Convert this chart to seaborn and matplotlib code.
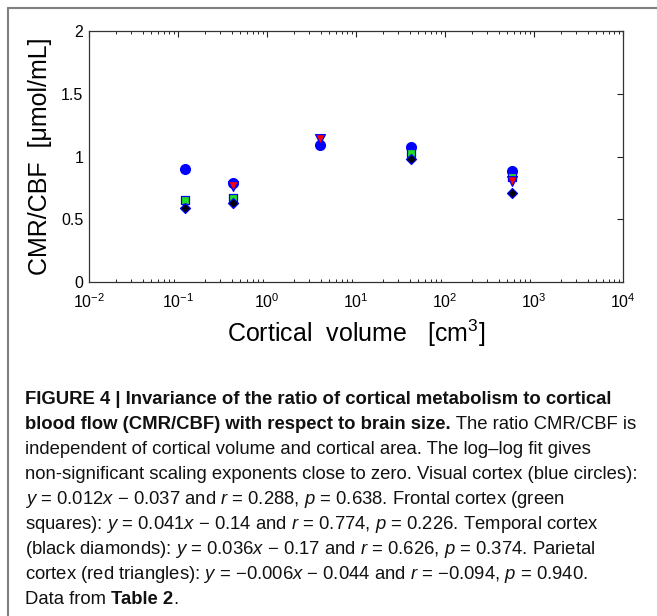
import matplotlib
matplotlib.use("Agg")
import matplotlib.pyplot as plt
import seaborn as sns
import pandas as pd
import numpy as np
from matplotlib.lines import Line2D
from matplotlib.text import Annotation
from matplotlib.ticker import FixedLocator, NullFormatter, LogFormatterSciNotation

sns.set_theme(style="white")
plt.rcParams['font.family'] = ['Liberation Sans', 'DejaVu Sans']
plt.rcParams['mathtext.fontset'] = 'custom'
plt.rcParams['mathtext.rm'] = 'Liberation Sans'
plt.rcParams['mathtext.it'] = 'Liberation Sans:italic'
plt.rcParams['mathtext.bf'] = 'Liberation Sans:bold'

# ---- data ----
visual_x = [0.12, 0.41, 3.9, 41.5, 560]
visual_y = [0.90, 0.79, 1.09, 1.075, 0.886]
frontal_x = [0.12, 0.41, 41.5, 560]
frontal_y = [0.655, 0.674, 1.027, 0.841]
parietal_x = [0.41, 3.9, 560]
parietal_y = [0.77, 1.14, 0.809]
temporal_x = [0.12, 0.41, 41.5, 560]
temporal_y = [0.589, 0.634, 0.979, 0.713]

x_decades = [1e-2, 1e-1, 1e0, 1e1, 1e2, 1e3, 1e4]
y_ticks = [0, 0.5, 1, 1.5, 2]
y_ticklabels = ["0", "0.5", "1", "1.5", "2"]

W, H = 657, 616
fig = plt.figure(figsize=(W / 100, H / 100), dpi=100)
fig.patch.set_facecolor("white")

ax = fig.add_axes([89 / W, 1 - 282.3 / H, 534 / W, 251.3 / H])
ax.set_facecolor("white")

series = [
    ("visual", visual_x, visual_y, "o", "#0000ff", 50),
    ("frontal", frontal_x, frontal_y, "s", "#22e022", 34),
    ("parietal", parietal_x, parietal_y, "v", "#ff0000", 50),
    ("temporal", temporal_x, temporal_y, "D", "#000000", 26),
]
for i, (name, xs, ys, mk, col, sz) in enumerate(series):
    df = pd.DataFrame({"x": xs, "y": ys})
    sns.scatterplot(data=df, x="x", y="y", marker=mk, color=col, edgecolor="#0000ff",
                    linewidth=0.9, s=sz, ax=ax, zorder=3 + i, legend=False)

ax.set_xscale("log")
ax.set_xlim(x_decades[0], x_decades[-1])
ax.set_ylim(0, 2)
ax.xaxis.set_major_locator(FixedLocator(x_decades))
ax.xaxis.set_major_formatter(LogFormatterSciNotation())
minor = [m * d for d in x_decades[:-1] for m in range(2, 10)]
ax.xaxis.set_minor_locator(FixedLocator(minor))
ax.xaxis.set_minor_formatter(NullFormatter())
ax.set_yticks(y_ticks)
ax.set_yticklabels(y_ticklabels)

for sp in ax.spines.values():
    sp.set_color("#333333")
    sp.set_linewidth(0.9)
ax.tick_params(axis="both", which="major", direction="in", length=4.5, width=0.8,
               top=True, right=True, labelsize=11.5, colors="#222222", labelcolor="black")
ax.tick_params(axis="x", which="minor", direction="in", length=2.4, width=0.7,
               top=True, bottom=True, colors="#222222")
ax.tick_params(axis="x", which="major", pad=7)
ax.tick_params(axis="y", which="major", pad=4)

ax.set_xlabel("Cortical  volume   [cm$^3$]", fontsize=18, color="black")
ax.xaxis.set_label_coords(0.5, (282.3 - 333) / 251.3)
ax.xaxis.label.set_va("center")
ylab = ax.set_ylabel("CMR/CBF  [μmol/mL]", fontsize=18, color="black")
ylab.set_va("center")
ax.yaxis.set_label_coords((40 - 89) / 534, 0.5)
ax.grid(False)

# ---- border lines ----
fig.add_artist(Line2D([7.5 / W, 1], [1 - 7.5 / H, 1 - 7.5 / H], transform=fig.transFigure,
                      color="#808080", lw=1.5))
fig.add_artist(Line2D([7.5 / W, 7.5 / W], [0, 1 - 7.5 / H], transform=fig.transFigure,
                      color="#808080", lw=1.5))

# ---- caption ----
cap_lines = [
    [("FIGURE 4 | Invariance of the ratio of cortical metabolism to cortical", "bold")],
    [("blood flow (CMR/CBF) with respect to brain size.", "bold"), (" The ratio CMR/CBF is", "normal")],
    [("independent of cortical volume and cortical area. The log–log fit gives", "normal")],
    [("non-significant scaling exponents close to zero. Visual cortex (blue circles):", "normal")],
    [("$y$ = 0.012$x$ − 0.037 and $r$ = 0.288, $p$ = 0.638. Frontal cortex (green", "normal")],
    [("squares): $y$ = 0.041$x$ − 0.14 and $r$ = 0.774, $p$ = 0.226. Temporal cortex", "normal")],
    [("(black diamonds): $y$ = 0.036$x$ − 0.17 and $r$ = 0.626, $p$ = 0.374. Parietal", "normal")],
    [("cortex (red triangles): $y$ = −0.006$x$ − 0.044 and $r$ = −0.094, $p$ = 0.940.", "normal")],
    [("Data from ", "normal"), ("Table 2", "bold"), (".", "normal")],
]
cap_fs = 13.3
y0, dy = 404, 25
for i, segs in enumerate(cap_lines):
    yb = y0 + i * dy
    prev = None
    for txt, wt in segs:
        if prev is None:
            t = fig.text(25 / W, 1 - yb / H, txt, fontsize=cap_fs, fontweight=wt,
                         va="baseline", ha="left", color="#111111")
        else:
            t = Annotation(txt, xy=(1, 0), xycoords=prev, va="bottom", ha="left",
                           fontsize=cap_fs, fontweight=wt, color="#111111")
            fig.add_artist(t)
        prev = t

fig.savefig("out.png", dpi=100, facecolor="white")
